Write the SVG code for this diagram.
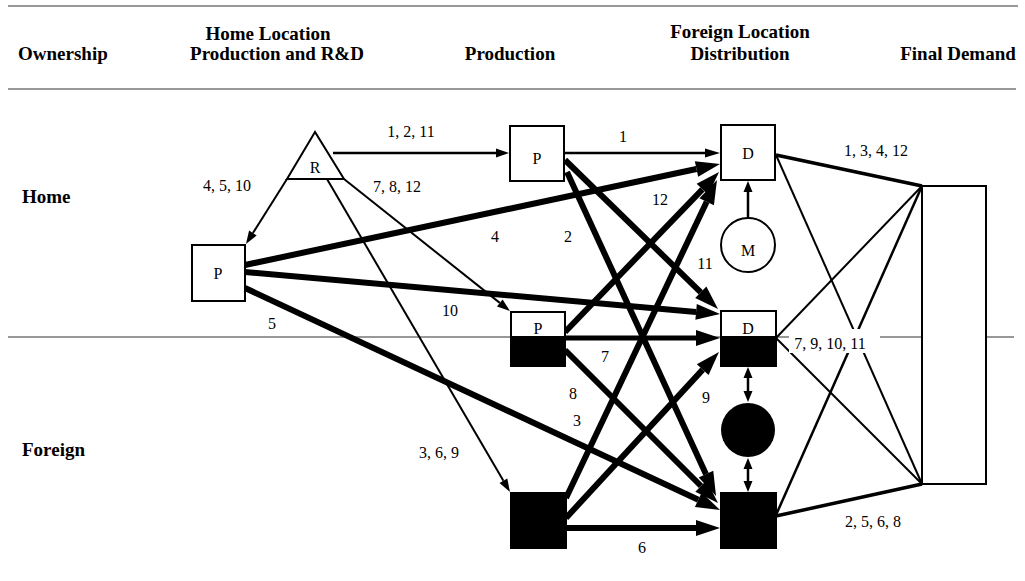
<svg xmlns="http://www.w3.org/2000/svg" width="1025" height="581" viewBox="0 0 1025 581">
<defs>
<style>
.hdr{font-family:"Liberation Serif","Times New Roman",serif;font-weight:bold;font-size:19px;fill:#000;text-anchor:middle}
.row{font-family:"Liberation Serif","Times New Roman",serif;font-weight:bold;font-size:19px;fill:#000}
.lbl{font-family:"Liberation Serif","Times New Roman",serif;font-size:16px;fill:#000;text-anchor:middle}
.nt{font-family:"Liberation Serif","Times New Roman",serif;font-size:16px;fill:#000;text-anchor:middle}
.rule{stroke:#333;stroke-width:1.2;fill:none}
.box{fill:#fff;stroke:#000;stroke-width:2}
.blk{fill:#000;stroke:#000;stroke-width:2}
.thick{stroke:#000;stroke-width:6;fill:none;marker-end:url(#big)}
.med{stroke:#000;stroke-width:2.5;fill:none}
.thin{stroke:#000;stroke-width:2;fill:none}
</style>
<marker id="big" markerUnits="userSpaceOnUse" orient="auto" refX="0" refY="0" markerWidth="24" markerHeight="16" overflow="visible"><path d="M0,-8 L24,0 L0,8 z" fill="#000"/></marker>
<marker id="mid" markerUnits="userSpaceOnUse" orient="auto" refX="0" refY="0" markerWidth="15" markerHeight="10" overflow="visible"><path d="M0,-4.5 L15,0 L0,4.5 z" fill="#000"/></marker>
<marker id="sm" markerUnits="userSpaceOnUse" orient="auto" refX="0" refY="0" markerWidth="13" markerHeight="10" overflow="visible"><path d="M0,-4.5 L13,0 L0,4.5 z" fill="#000"/></marker>
<marker id="dbl" markerUnits="userSpaceOnUse" orient="auto-start-reverse" refX="0" refY="0" markerWidth="11" markerHeight="10" overflow="visible"><path d="M0,-4.5 L11,0 L0,4.5 z" fill="#000"/></marker>
</defs>
<rect width="1025" height="581" fill="#fff"/>

<g id="header">
<line class="rule" x1="8" y1="6" x2="1018" y2="6"/>
<line class="rule" x1="8" y1="89" x2="1016" y2="89"/>
<text class="row" x="18" y="60">Ownership</text>
<text class="hdr" x="268" y="40">Home Location</text>
<text class="hdr" x="277" y="60">Production and R&amp;D</text>
<text class="hdr" x="510" y="60">Production</text>
<text class="hdr" x="740" y="38">Foreign Location</text>
<text class="hdr" x="740" y="60">Distribution</text>
<text class="hdr" x="958" y="60">Final Demand</text>
<text class="row" x="22" y="203">Home</text>
<text class="row" x="22" y="456">Foreign</text>
</g>

<g id="divider">
<line class="rule" x1="8" y1="337" x2="1014" y2="337"/>
</g>

<g id="connectors">
<!-- R outputs -->
<line class="med" x1="333" y1="153" x2="496" y2="153" marker-end="url(#sm)"/>
<line class="thin" x1="287" y1="179" x2="252.9" y2="233" marker-end="url(#sm)"/>
<line class="thin" x1="344" y1="179" x2="499.8" y2="302.9" marker-end="url(#sm)"/>
<line class="thin" x1="327" y1="179" x2="503.4" y2="480.8" marker-end="url(#sm)"/>
<!-- P left -->
<line class="thick" x1="245" y1="265" x2="696.5" y2="169"/>
<line class="thick" x1="245" y1="272" x2="696.1" y2="311.9"/>
<line class="thick" x1="245" y1="288" x2="698.3" y2="499.8"/>
<!-- P top -->
<line class="med" x1="564" y1="153" x2="705" y2="153" marker-end="url(#mid)"/>
<line class="thick" x1="565" y1="160" x2="700.8" y2="292.3"/>
<line class="thick" x1="567" y1="172" x2="706" y2="474.2"/>
<!-- P middle -->
<line class="thick" x1="565" y1="332" x2="702.4" y2="189.3"/>
<line class="thick" x1="565" y1="338" x2="696" y2="338" style="stroke-width:5"/>
<line class="thick" x1="565" y1="350" x2="701" y2="486"/>
<!-- P foreign -->
<line class="thick" x1="566" y1="498" x2="706.7" y2="201.7"/>
<line class="thick" x1="566" y1="518" x2="702.7" y2="369.6"/>
<line class="thick" x1="566" y1="528" x2="696" y2="528"/>
<!-- markets -->
<line class="med" x1="748" y1="218" x2="748" y2="192" marker-end="url(#dbl)"/>
<line class="med" x1="748" y1="378" x2="748" y2="391" marker-start="url(#dbl)" marker-end="url(#dbl)"/>
<line class="med" x1="748" y1="469" x2="748" y2="481" marker-start="url(#dbl)" marker-end="url(#dbl)"/>
<!-- to final demand -->
<line class="thin" x1="776" y1="155" x2="922" y2="186" style="stroke-width:3.5"/>
<line class="thin" x1="776" y1="155" x2="922" y2="484"/>
<line class="thin" x1="776" y1="338" x2="922" y2="186"/>
<line class="thin" x1="776" y1="338" x2="922" y2="484"/>
<line class="thin" x1="776" y1="515" x2="922" y2="186" style="stroke-width:2.5"/>
<line class="thin" x1="776" y1="516" x2="922" y2="484" style="stroke-width:3.5"/>
</g>

<g id="labels">
<text class="lbl" x="411" y="137">1, 2, 11</text>
<text class="lbl" x="397" y="192">7, 8, 12</text>
<text class="lbl" x="227" y="191">4, 5, 10</text>
<text class="lbl" x="439" y="458">3, 6, 9</text>
<text class="lbl" x="623" y="142">1</text>
<text class="lbl" x="660" y="205">12</text>
<text class="lbl" x="495" y="242">4</text>
<text class="lbl" x="568" y="242">2</text>
<text class="lbl" x="705" y="269">11</text>
<text class="lbl" x="450" y="316">10</text>
<text class="lbl" x="272" y="329">5</text>
<text class="lbl" x="605" y="362">7</text>
<text class="lbl" x="573" y="399">8</text>
<text class="lbl" x="577" y="426">3</text>
<text class="lbl" x="706" y="403">9</text>
<text class="lbl" x="642" y="553">6</text>
<text class="lbl" x="876" y="156">1, 3, 4, 12</text>
<rect x="789" y="329" width="91" height="24" fill="#fff"/>
<text class="lbl" x="830" y="349">7, 9, 10, 11</text>
<text class="lbl" x="873" y="527">2, 5, 6, 8</text>
</g>

<g id="node-R">
<polygon points="315,132 287,179 344,179" fill="#fff" stroke="#000" stroke-width="2"/>
<text class="nt" x="315" y="173">R</text>
</g>
<g id="node-P-home-left">
<rect class="box" x="192" y="245" width="53" height="56"/>
<text class="nt" x="218" y="279">P</text>
</g>
<g id="node-P-home">
<rect class="box" x="510" y="126" width="54" height="55"/>
<text class="nt" x="537" y="164">P</text>
</g>
<g id="node-P-mixed">
<rect class="box" x="511" y="312" width="54" height="54"/>
<rect class="blk" x="511" y="337" width="54" height="29"/>
<text class="nt" x="538" y="334">P</text>
</g>
<g id="node-P-foreign">
<rect class="blk" x="511" y="493" width="55" height="55"/>
</g>
<g id="node-D-home">
<rect class="box" x="721" y="125" width="54" height="55"/>
<text class="nt" x="748" y="159">D</text>
</g>
<g id="node-D-mixed">
<rect class="box" x="721" y="311" width="55" height="55"/>
<rect class="blk" x="721" y="337" width="55" height="29"/>
<text class="nt" x="748" y="334">D</text>
</g>
<g id="node-D-foreign">
<rect class="blk" x="721" y="493" width="55" height="55"/>
</g>
<g id="node-M-home">
<circle cx="748" cy="245" r="27" fill="#fff" stroke="#000" stroke-width="2"/>
<text class="nt" x="748" y="256">M</text>
</g>
<g id="node-M-foreign">
<circle cx="748" cy="430" r="27" fill="#000"/>
</g>
<g id="node-final-demand">
<rect class="box" x="922" y="186" width="64" height="298"/>
</g>
</svg>
